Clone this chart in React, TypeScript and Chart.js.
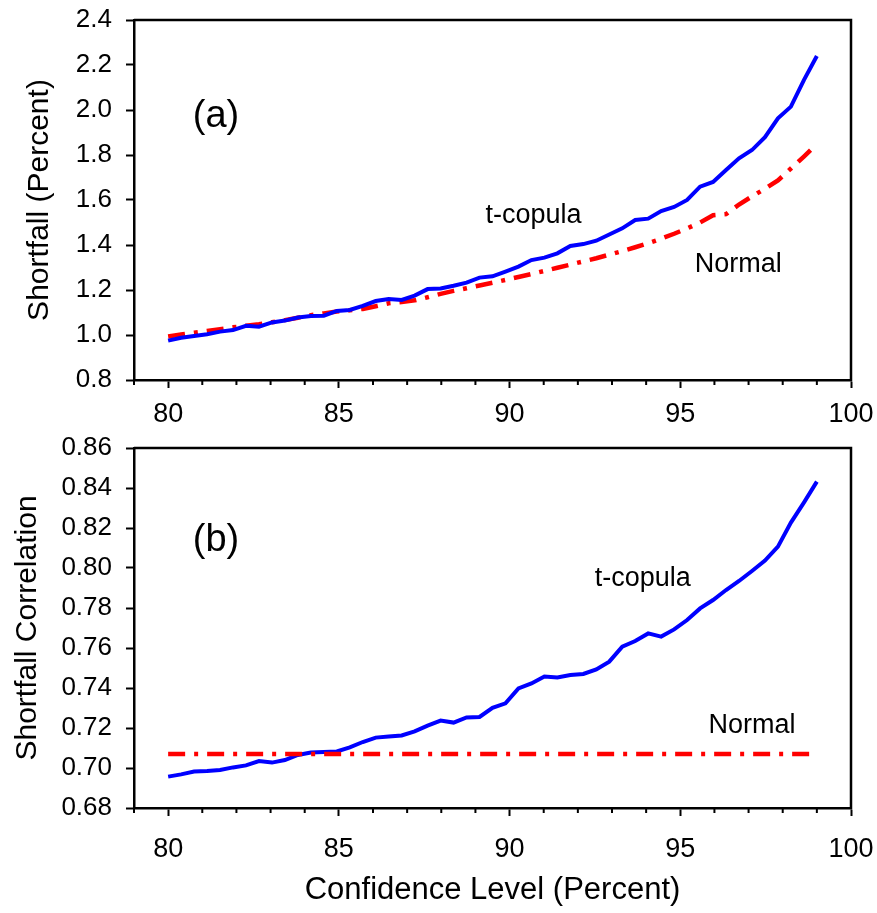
import React, { useEffect, useRef } from 'react';
import { Chart, registerables } from 'chart.js';

Chart.register(...registerables);

// ---------- data ----------
const confLevel = [
  80, 80.38, 80.76, 81.14, 81.52, 81.9, 82.28, 82.66, 83.04, 83.42,
  83.8, 84.18, 84.56, 84.94, 85.32, 85.7, 86.08, 86.46, 86.84, 87.22,
  87.6, 87.98, 88.36, 88.74, 89.12, 89.5, 89.88, 90.26, 90.64, 91.02,
  91.4, 91.78, 92.16, 92.54, 92.92, 93.3, 93.68, 94.06, 94.44, 94.82,
  95.2, 95.58, 95.96, 96.34, 96.72, 97.1, 97.48, 97.86, 98.24, 98.62, 99.0,
];

const shortfallT = [
  0.975, 0.988, 0.996, 1.003, 1.015, 1.022, 1.041, 1.037, 1.056, 1.064,
  1.078, 1.084, 1.086, 1.107, 1.111, 1.129, 1.151, 1.160, 1.156, 1.175,
  1.204, 1.207, 1.219, 1.233, 1.255, 1.261, 1.282, 1.304, 1.333, 1.344,
  1.363, 1.396, 1.404, 1.419, 1.447, 1.474, 1.511, 1.517, 1.551, 1.569,
  1.600, 1.659, 1.680, 1.733, 1.785, 1.822, 1.879, 1.963, 2.015, 2.133, 2.240,
];

const shortfallNormal = [
  0.993, 1.002, 1.010, 1.018, 1.026, 1.034, 1.041, 1.048, 1.057, 1.066,
  1.077, 1.088, 1.096, 1.104, 1.110, 1.116, 1.128, 1.141, 1.147, 1.154,
  1.168, 1.183, 1.196, 1.208, 1.220, 1.232, 1.245, 1.258, 1.271, 1.285,
  1.299, 1.313, 1.327, 1.341, 1.357, 1.373, 1.390, 1.408, 1.428, 1.450,
  1.474, 1.500, 1.532, 1.537, 1.580, 1.616, 1.650, 1.687, 1.740, 1.793, 1.848,
];

const corrT = [
  0.6957, 0.6968, 0.6982, 0.6985, 0.699, 0.7003, 0.7013, 0.7035, 0.7027, 0.704,
  0.7065, 0.7077, 0.708, 0.7083, 0.7103, 0.713, 0.7152, 0.7158, 0.7163, 0.7183,
  0.7212, 0.7237, 0.7227, 0.7253, 0.7255, 0.7301, 0.7323, 0.7398, 0.7423, 0.7457,
  0.7453, 0.7465, 0.747, 0.7493, 0.7532, 0.7607, 0.7635, 0.7673, 0.7657, 0.7693,
  0.774, 0.7798, 0.784, 0.789, 0.7935, 0.7985, 0.8037, 0.8107, 0.8227, 0.8327, 0.8432,
];

const corrNormalX = [80, 99];
const corrNormal = [0.707, 0.707];

const xTickValues = [79, 80, 81, 82, 83, 84, 85, 86, 87, 88, 89, 90, 91, 92, 93, 94, 95, 96, 97, 98, 99, 100];
const xLabeledTicks = [80, 85, 90, 95, 100];
const xTickLabels = ['80', '85', '90', '95', '100'];

const topYTicks = [0.8, 1.0, 1.2, 1.4, 1.6, 1.8, 2.0, 2.2, 2.4];
const topYLabels = ['0.8', '1.0', '1.2', '1.4', '1.6', '1.8', '2.0', '2.2', '2.4'];
const bottomYTicks = [0.68, 0.7, 0.72, 0.74, 0.76, 0.78, 0.8, 0.82, 0.84, 0.86];
const bottomYLabels = ['0.68', '0.70', '0.72', '0.74', '0.76', '0.78', '0.80', '0.82', '0.84', '0.86'];

const topNotes = [
  { text: '(a)', x: 81.4, y: 1.925, size: 38 },
  { text: 't-copula', x: 90.7, y: 1.5, size: 27 },
  { text: 'Normal', x: 96.7, y: 1.28, size: 27 },
];
const bottomNotes = [
  { text: '(b)', x: 81.4, y: 0.8085, size: 38 },
  { text: 't-copula', x: 93.9, y: 0.791, size: 27 },
  { text: 'Normal', x: 97.1, y: 0.7177, size: 27 },
];

// ---------- styling ----------
const FONT = '"Liberation Sans", Arial, Helvetica, sans-serif';
const BLUE = '#0000ff';
const RED = '#ff0000';

const decorPlugin = {
  id: 'decor',
  afterDraw(chart: any, _args: any, opts: any) {
    const { ctx, chartArea: a, scales } = chart;
    const xs = scales.x;
    ctx.save();
    ctx.strokeStyle = '#000';
    ctx.lineWidth = 2.5;
    ctx.beginPath();
    ctx.moveTo(a.left, a.top);
    ctx.lineTo(a.right, a.top);
    ctx.lineTo(a.right, a.bottom + 1);
    ctx.stroke();
    // minor x ticks
    ctx.lineWidth = 2;
    ctx.beginPath();
    for (const v of xTickValues) {
      if (xLabeledTicks.includes(v)) continue;
      const px = xs.getPixelForValue(v);
      ctx.moveTo(px, a.bottom);
      ctx.lineTo(px, a.bottom + 5);
    }
    ctx.stroke();
    // notes
    ctx.fillStyle = '#000';
    ctx.textAlign = 'center';
    ctx.textBaseline = 'alphabetic';
    for (const n of opts.notes || []) {
      ctx.font = `${n.size}px ${FONT}`;
      ctx.fillText(n.text, xs.getPixelForValue(n.x), scales.y.getPixelForValue(n.y));
    }
    ctx.restore();
  },
};

function makeConfig(p: {
  datasets: any[];
  yMin: number;
  yMax: number;
  yTicks: number[];
  yLabels: string[];
  yTitle: string;
  yTitlePad: number;
  xTitle: string | null;
  topPad: number;
  xAxisHeight: number;
  xLabelPad: number;
  notes: any[];
}) {
  return {
    type: 'line',
    data: { datasets: p.datasets },
    plugins: [decorPlugin],
    options: {
      animation: false,
      responsive: false,
      devicePixelRatio: window.devicePixelRatio || 1,
      layout: { padding: { top: p.topPad, right: 26, left: 0, bottom: 0 } },
      plugins: {
        legend: { display: false },
        tooltip: { enabled: false },
        decor: { notes: p.notes },
      },
      elements: { point: { radius: 0 }, line: { tension: 0 } },
      scales: {
        x: {
          type: 'linear',
          min: 79,
          max: 100,
          afterBuildTicks: (s: any) => {
            s.ticks = xTickValues.map((v) => ({ value: v }));
          },
          afterFit: (s: any) => {
            s.height = p.xAxisHeight;
            s.paddingLeft = 0;
            s.paddingRight = 0;
          },
          ticks: {
            autoSkip: false,
            maxRotation: 0,
            minRotation: 0,
            padding: p.xLabelPad,
            color: '#000',
            font: { family: FONT, size: 27 },
            callback: (v: any) => {
              const i = xLabeledTicks.indexOf(Number(v));
              return i >= 0 ? xTickLabels[i] : '';
            },
          },
          grid: {
            drawOnChartArea: false,
            drawTicks: true,
            tickLength: 8,
            tickWidth: 2,
            tickColor: (ctx: any) =>
              ctx.tick && xLabeledTicks.includes(ctx.tick.value) ? '#000' : 'rgba(0,0,0,0)',
          },
          border: { display: true, color: '#000', width: 2.5 },
          title: p.xTitle
            ? {
                display: true,
                text: p.xTitle,
                color: '#000',
                font: { family: FONT, size: 31 },
                padding: { top: 0, bottom: 4 },
              }
            : { display: false },
        },
        y: {
          type: 'linear',
          min: p.yMin,
          max: p.yMax,
          afterBuildTicks: (s: any) => {
            s.ticks = p.yTicks.map((v) => ({ value: v }));
          },
          afterFit: (s: any) => {
            s.width = 134;
            s.paddingTop = 0;
            s.paddingBottom = 0;
          },
          ticks: {
            padding: 14,
            color: '#000',
            font: { family: FONT, size: 26 },
            callback: (_v: any, i: number) => p.yLabels[i],
          },
          grid: {
            drawOnChartArea: false,
            drawTicks: true,
            tickLength: 8,
            tickWidth: 2,
            tickColor: '#000',
          },
          border: { display: true, color: '#000', width: 2.5 },
          title: {
            display: true,
            text: p.yTitle,
            color: '#000',
            font: { family: FONT, size: 30 },
            padding: { top: p.yTitlePad, bottom: 0 },
          },
        },
      },
    },
  } as any;
}

function ChartCanvas({ config, width, height, top }: { config: any; width: number; height: number; top: number }) {
  const ref = useRef<HTMLCanvasElement | null>(null);
  useEffect(() => {
    if (!ref.current) return;
    const chart = new Chart(ref.current, config);
    return () => chart.destroy();
  }, [config]);
  return (
    <canvas
      ref={ref}
      width={width}
      height={height}
      style={{ position: 'absolute', left: 0, top, width, height, display: 'block' }}
    />
  );
}

const topConfig = makeConfig({
  datasets: [
    {
      label: 't-copula',
      data: confLevel.map((x, i) => ({ x, y: shortfallT[i] })),
      borderColor: BLUE,
      borderWidth: 4,
      fill: false,
    },
    {
      label: 'Normal',
      data: confLevel.map((x, i) => ({ x, y: shortfallNormal[i] })),
      borderColor: RED,
      borderWidth: 4.5,
      borderDash: [17, 9, 4, 9],
      borderCapStyle: 'butt',
      fill: false,
    },
  ],
  yMin: 0.8,
  yMax: 2.4,
  yTicks: topYTicks,
  yLabels: topYLabels,
  yTitle: 'Shortfall (Percent)',
  yTitlePad: 22,
  xTitle: null,
  topPad: 20,
  xAxisHeight: 50,
  xLabelPad: 10,
  notes: topNotes,
});

const bottomConfig = makeConfig({
  datasets: [
    {
      label: 'Normal',
      data: corrNormalX.map((x, i) => ({ x, y: corrNormal[i] })),
      borderColor: RED,
      borderWidth: 4.5,
      borderDash: [17, 9, 4, 9],
      borderCapStyle: 'butt',
      fill: false,
    },
    {
      label: 't-copula',
      data: confLevel.map((x, i) => ({ x, y: corrT[i] })),
      borderColor: BLUE,
      borderWidth: 4,
      fill: false,
    },
  ],
  yMin: 0.68,
  yMax: 0.86,
  yTicks: bottomYTicks,
  yLabels: bottomYLabels,
  yTitle: 'Shortfall Correlation',
  yTitlePad: 10,
  xTitle: 'Confidence Level (Percent)',
  topPad: 18,
  xAxisHeight: 105,
  xLabelPad: 17,
  notes: bottomNotes,
});

export default function App() {
  return (
    <div style={{ position: 'absolute', left: 0, top: 0, width: 877, height: 913, background: '#fff' }}>
      <ChartCanvas config={topConfig} width={877} height={430} top={0} />
      <ChartCanvas config={bottomConfig} width={877} height={483} top={430} />
    </div>
  );
}
